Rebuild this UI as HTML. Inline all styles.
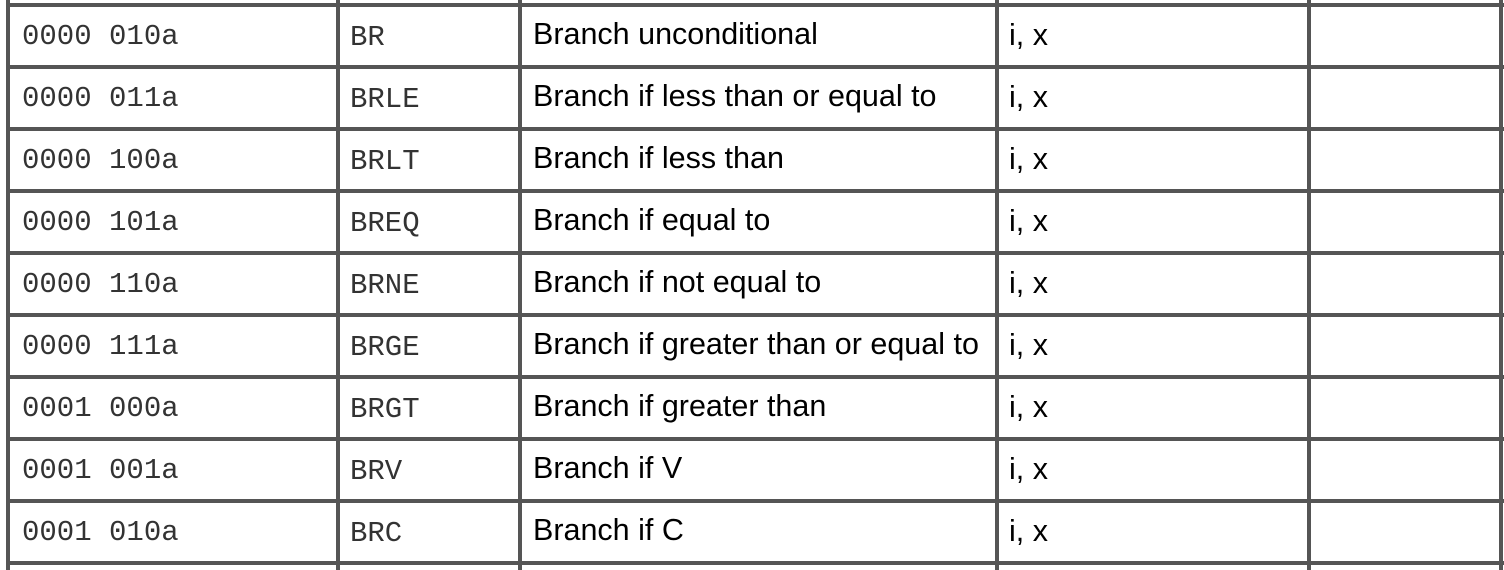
<!DOCTYPE html>
<html><head><meta charset="utf-8"><style>
body{margin:0;width:1504px;height:570px;background:#fff;position:relative;overflow:hidden}
.h{position:absolute;left:6px;width:1498px;height:4px;background:#555}
.v{position:absolute;top:0;height:570px;width:4px;background:#555}
.t{position:absolute;white-space:nowrap;color:#111}
.m{font-family:"Liberation Mono",monospace;font-size:29px;color:#333}
.s{font-family:"Liberation Sans",sans-serif;font-size:30.5px;letter-spacing:0px;color:#000}
</style></head><body>
<div id="lines"></div>
<script>
const codes=["0000 010a","0000 011a","0000 100a","0000 101a","0000 110a","0000 111a","0001 000a","0001 001a","0001 010a"];
const mnems=["BR","BRLE","BRLT","BREQ","BRNE","BRGE","BRGT","BRV","BRC"];
const descs=["Branch unconditional","Branch if less than or equal to","Branch if less than","Branch if equal to","Branch if not equal to","Branch if greater than or equal to","Branch if greater than","Branch if V","Branch if C"];
const modes=["i, x","i, x","i, x","i, x","i, x","i, x","i, x","i, x","i, x"];
const rowTop=5,rowH=62;
const colX=[8,338,520,997,1309,1501];
for(let i=0;i<=codes.length;i++){
  const d=document.createElement('div');d.className='h';d.style.top=(rowTop+i*rowH-2)+'px';
  
  
  document.body.appendChild(d);
}
colX.forEach(x=>{
  const d=document.createElement('div');d.className='v';d.style.left=(x-2)+'px';
  
  
  document.body.appendChild(d);
});
function cell(txt,x,cy,cls,name){
  const d=document.createElement('div');d.className='t '+cls;d.textContent=txt;
  d.style.left=x+'px';d.style.top=(cy-17)+'px';d.style.lineHeight='34px';
  
  
  document.body.appendChild(d);
}
codes.forEach((c,i)=>{
  const cy=rowTop+i*rowH+31;
  cell(c,22,cy+1,'m','opcode-cell');
  cell(mnems[i],350,cy+2,'m','mnemonic-cell');
  cell(descs[i],533,cy-2,'s','description-cell');
  cell(modes[i],1009,cy-1,'s','addressing-mode-cell');
});
</script>
</body></html>
